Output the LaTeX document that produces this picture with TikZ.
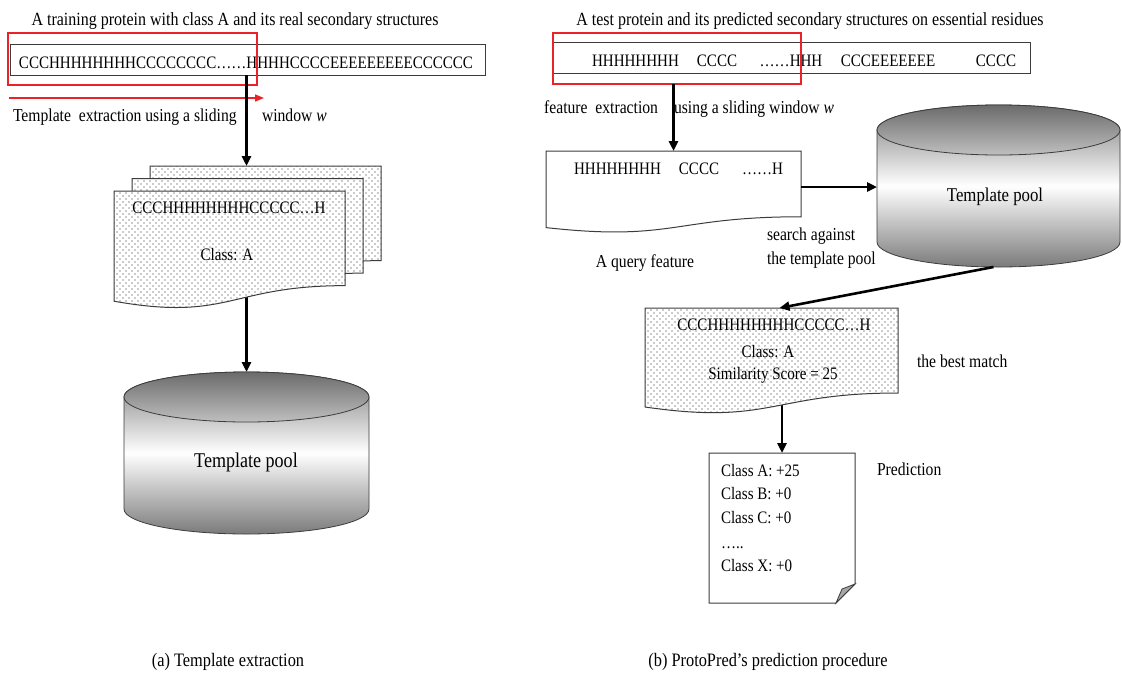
\documentclass[tikz,border=0pt]{standalone}
\usepackage{fontspec}
\setmainfont{Liberation Serif}[FakeStretch=0.86]
\usetikzlibrary{arrows.meta,patterns,calc}
\definecolor{boxred}{RGB}{235,35,40}
\definecolor{edge}{RGB}{60,60,60}
\pgfdeclarepatternformonly{sparsedots}{\pgfqpoint{-1pt}{-1pt}}{\pgfqpoint{7pt}{7pt}}{\pgfqpoint{6pt}{6pt}}{%
  \pgfpathcircle{\pgfqpoint{0pt}{0pt}}{0.65pt}%
  \pgfpathcircle{\pgfqpoint{3pt}{3pt}}{0.65pt}%
  \pgfusepath{fill}}
\pgfdeclarelayer{bg}
\pgfsetlayers{bg,main}
% document shape with wavy bottom: style, x1, y1, w, h
\newcommand\docdraw[5]{%
  \path[#1] (#2,#3) -- ({#2+#4},#3) -- ({#2+#4},{#3+0.802*#5})
    .. controls ({#2+0.5*#4},{#3+0.802*#5}) and ({#2+0.5*#4},{#3+1.1075*#5}) .. (#2,{#3+0.934*#5}) -- cycle;}
% cylinder: cx, ytop, rx, h
\newcommand\cyldraw[4]{%
  \path[cylbody] ({#1-#3},{#2+25}) -- ({#1-#3},{#2+#4-25})
    arc[start angle=180,end angle=360,x radius=#3pt,y radius=25pt]
    -- ({#1+#3},{#2+25})
    arc[start angle=0,end angle=180,x radius=#3pt,y radius=25pt] -- cycle;
  \path[cyltop] (#1,{#2+25}) ellipse[x radius=#3pt,y radius=25pt];}
\begin{document}
\begin{tikzpicture}[x=1pt,y=-1pt,
  every node/.style={font=\fontsize{17.5}{21}\selectfont, inner sep=0pt, outer sep=0pt},
  hitbox/.style={inner sep=0pt},
  lbl/.style={font=\fontsize{18.2}{22}\selectfont},
  ttl/.style={font=\fontsize{18.6}{22}\selectfont},
  captxt/.style={font=\fontsize{19}{23}\selectfont},
  arr/.style={line width=2.6pt, -{Triangle[length=10pt,width=9pt]}},
  redarr/.style={boxred, line width=1.6pt, -{Triangle[length=9pt,width=7pt]}},
  seqbox/.style={draw=edge, line width=1pt},
  redbox/.style={draw=boxred, line width=2pt},
  dotdoc/.style={preaction={fill=white}, pattern=sparsedots, pattern color=black!85, draw=edge, line width=1pt},
  plaindoc/.style={fill=white, draw=edge, line width=1pt},
  cylbody/.style={draw=edge, line width=0.8pt, top color=black!52, bottom color=black!52, middle color=white},
  cyltop/.style={draw=edge, line width=0.8pt, top color=black!58, bottom color=black!25},
  bigtxt/.style={font=\fontsize{21}{25}\selectfont},
  midtxt/.style={font=\fontsize{19.5}{23}\selectfont}]
\useasboundingbox (0,0) rectangle (1122,673);
\begin{pgfonlayer}{bg}
\fill[white] (0,0) rectangle (1122,673);
\end{pgfonlayer}

% ---------------- (a) ----------------
\node[anchor=base, ttl] (titleA) at (235,25) {A training protein with class A and its real secondary structures};
\node[seqbox, minimum width=475, minimum height=31] (seqA) at (247.5,59.5) {};
\node[anchor=base] (seqAt) at (246,68) {CCCHHHHHHHHCCCCCCCC……HHHHCCCCEEEEEEEEECCCCCC};
\node[redbox, minimum width=249, minimum height=52] (redA) at (132.5,59) {};
\coordinate (slideS) at (9,98);
\coordinate (slideE) at (264,98);
\draw[redarr] (slideS) -- (slideE);
\node[anchor=base west, lbl] (lblA1) at (13,121) {Template\ \ extraction using a sliding};
\node[anchor=base west, lbl] (lblA2) at (262,121) {window \textit{w}};

\node[hitbox, minimum width=231, minimum height=118] (docA3) at (265.5,225) {};
\node[hitbox, minimum width=231, minimum height=118] (docA1) at (229.5,250) {};
\node[hitbox, minimum width=245, minimum height=162] (poolA) at (246.5,453) {};

\docdraw{dotdoc}{150}{166}{231}{118}
\docdraw{dotdoc}{132}{178.5}{231}{118}
\docdraw{dotdoc}{114}{191}{231}{118}
\node[anchor=base] (docAt1) at (229,213) {CCCHHHHHHHHCCCCC…H};
\node[anchor=base] (docAt2) at (227,260) {Class: A};

\cyldraw{246.5}{372}{122.5}{162}
\node[anchor=base, bigtxt] (poolAt) at (246,467) {Template pool};

\draw[arr] (seqA.south -| poolA.north) -- (docA3.north -| poolA.north);
\begin{pgfonlayer}{bg}
\draw[arr] (docA1.center -| poolA.north) -- (poolA.north);
\end{pgfonlayer}

\node[anchor=base, captxt] (capA) at (228,666) {(a) Template extraction};

% ---------------- (b) ----------------
\node[anchor=base, ttl] (titleB) at (810,25) {A test protein and its predicted secondary structures on essential residues};
\node[seqbox, minimum width=477, minimum height=31] (seqB) at (791.5,57.5) {};
\node[anchor=base] (seqB1) at (635.5,66) {HHHHHHHH};
\node[anchor=base] (seqB2) at (717,66) {CCCC};
\node[anchor=base] (seqB3) at (791,66) {……HHH};
\node[anchor=base] (seqB4) at (888,66) {CCCEEEEEEE};
\node[anchor=base] (seqB5) at (996,66) {CCCC};
\node[redbox, minimum width=248, minimum height=51] (redB) at (677,58.5) {};
\node[anchor=base east, lbl] (lblB1) at (658,113) {feature\ \ extraction};
\node[anchor=base west, lbl] (lblB2) at (674,113) {using a sliding window \textit{w}};

\node[hitbox, minimum width=255, minimum height=72] (docQ) at (673.5,187) {};
\node[hitbox, minimum width=243, minimum height=162] (poolB) at (998.5,186) {};
\node[hitbox, minimum width=253, minimum height=94] (docB) at (771.5,355) {};
\node[hitbox, minimum width=146, minimum height=150] (note) at (782,528) {};

\docdraw{plaindoc}{546}{151}{255}{82}
\node[anchor=base] (docQ1) at (617.5,174) {HHHHHHHH};
\node[anchor=base] (docQ2) at (699,174) {CCCC};
\node[anchor=base] (docQ3) at (762.5,174) {……H};
\node[anchor=base, lbl] (lblQ) at (645,267) {A query feature};
\node[anchor=base west, lbl] (lblS1) at (767,240) {search against};
\node[anchor=base west, lbl] (lblS2) at (767,264) {the template pool};

\cyldraw{998.5}{105}{121.5}{162}
\node[anchor=base, midtxt] (poolBt) at (995,201) {Template pool};

\docdraw{dotdoc}{645}{308}{253}{106}
\node[anchor=base] (docB1) at (774,330) {CCCHHHHHHHHCCCCC…H};
\node[anchor=base] (docB2) at (768,357) {Class: A};
\node[anchor=base] (docB3) at (773,379) {Similarity Score = 25};
\node[anchor=base west, lbl] (lblBest) at (917,367) {the best match};

\path[plaindoc] (709,453) -- (855,453) -- (855,584) -- (836,603) -- (709,603) -- cycle;
\filldraw[fill=black!35, draw=edge, line width=0.8pt] (855,584) -- (842,589) -- (836,603) -- cycle;
\node[anchor=base west] (p1) at (721,476) {Class A: +25};
\node[anchor=base west] (p2) at (721,499) {Class B: +0};
\node[anchor=base west] (p3) at (721,523) {Class C: +0};
\node[anchor=base west] (p4) at (721,548) {…..};
\node[anchor=base west] (p5) at (721,571) {Class X: +0};
\node[anchor=base west, lbl] (lblPred) at (877,475) {Prediction};

\draw[arr] (redB.south -| docQ.north) -- (docQ.north);
\draw[arr] (docQ.east) -- (docQ.east -| poolB.west);
\draw[arr] ([xshift=-5pt]poolB.south) -- ([xshift=8pt]docB.north);
\begin{pgfonlayer}{bg}
\draw[arr] (docB.center -| note.north) -- (note.north);
\end{pgfonlayer}

\node[anchor=base, captxt] (capB) at (768,666) {(b) ProtoPred’s prediction procedure};
\end{tikzpicture}
\end{document}
